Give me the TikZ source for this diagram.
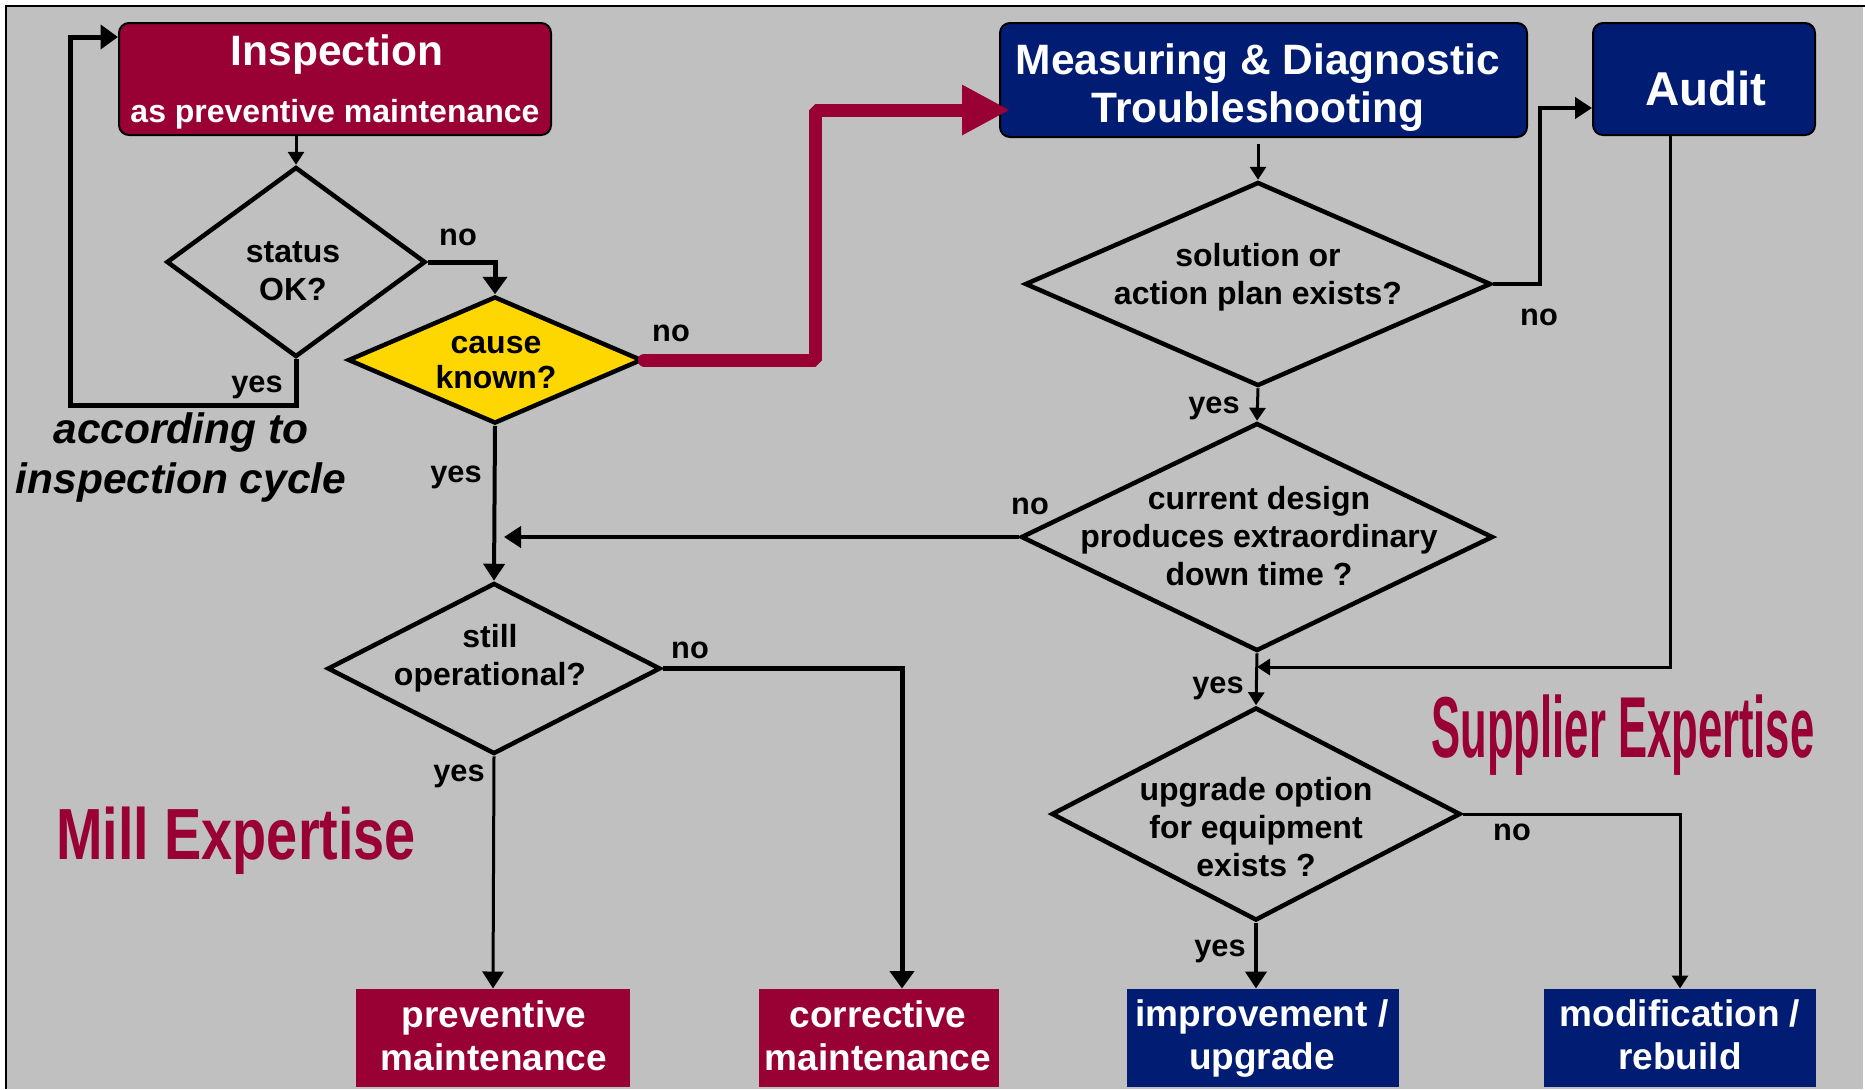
\documentclass[tikz,border=0pt]{standalone}
\usepackage{fontspec}
\setmainfont{Liberation Sans}
\usepackage{graphicx}
\usetikzlibrary{shapes.geometric,arrows.meta,calc}
\definecolor{dred}{HTML}{990033}
\definecolor{navy}{HTML}{001C73}
\definecolor{ygold}{HTML}{FFD700}
\definecolor{bg}{HTML}{C0C0C0}
\def\px{0.4pt}
\newcommand\fBig{\fontsize{17pt}{19.2pt}\selectfont\bfseries}
\newcommand\fSub{\fontsize{12.8pt}{15pt}\selectfont\bfseries}
\newcommand\fAudit{\fontsize{19pt}{22pt}\selectfont\bfseries}
\newcommand\fBot{\fontsize{14.8pt}{17.2pt}\selectfont\bfseries}
\newcommand\fDia{\fontsize{12.8pt}{15.2pt}\selectfont\bfseries}
\newcommand\fDiaB{\fontsize{12.8pt}{14pt}\selectfont\bfseries}
\newcommand\fLab{\fontsize{12.3pt}{14pt}\selectfont\bfseries}
\newcommand\fCyc{\fontsize{17pt}{20pt}\selectfont\bfseries\itshape}
\newcommand\fMill{\fontsize{29pt}{32pt}\selectfont\bfseries}
\newcommand\fSup{\fontsize{34.6pt}{38pt}\selectfont\bfseries}
\begin{document}
\begin{tikzpicture}[x=0.4pt,y=-0.4pt,
  rbox/.style={draw=black,line width=0.8pt,rounded corners=4pt,inner sep=0pt,fill=#1},
  sbox/.style={draw=none,inner sep=0pt,fill=#1},
  dia/.style={diamond,draw=black,line width=1.8pt,inner sep=0pt,fill=#1},
  wtext/.style={text=white,inner sep=0pt,align=center},
  ktext/.style={text=black,inner sep=0pt,align=center},
  lab/.style={text=black,inner sep=0pt,font=\fLab},
  conn/.style={draw=black,line width=#1},
  arrS/.style={-{Triangle[length=5.2pt,width=6.4pt]}},
  arrM/.style={-{Triangle[length=6.8pt,width=8.4pt]}},
  arrL/.style={-{Triangle[length=7pt,width=9.6pt]}}]
\useasboundingbox (0,0) rectangle (1865,1089);
\fill[white] (0,0) rectangle (1865,1089);
\fill[bg] (6,6) rectangle (1863,1089);
\draw[line width=0.8pt] (6,1089) -- (6,6) -- (1865,6);

% boxes
\node[rbox=dred,minimum width=432*\px,minimum height=112*\px] (insp) at (335,79) {};
\node[rbox=navy,minimum width=527*\px,minimum height=114*\px] (meas) at (1263.5,80) {};
\node[rbox=navy,minimum width=222*\px,minimum height=112*\px] (audit) at (1704,79) {};
\node[sbox=dred,minimum width=274*\px,minimum height=98*\px] (prev) at (493,1038) {};
\node[sbox=dred,minimum width=240*\px,minimum height=98*\px] (corr) at (879,1038) {};
\node[sbox=navy,minimum width=272*\px,minimum height=98*\px] (impr) at (1263,1038) {};
\node[sbox=navy,minimum width=272*\px,minimum height=98*\px] (modif) at (1680,1038) {};

\node[wtext,font=\fBig,anchor=base] (inspT1) at (337,65) {Inspection};
\node[wtext,font=\fSub,anchor=base] (inspT2) at (335,122) {as preventive maintenance};
\node[wtext,font=\fBig] (measT) at (1258,88) {Measuring \& Diagnostic\\Troubleshooting};
\node[wtext,font=\fAudit,anchor=base] (auditT) at (1706,105) {Audit};
\node[wtext,font=\fBot] (prevT) at (494,1036) {preventive\\maintenance};
\node[wtext,font=\fBot] (corrT) at (878,1036) {corrective\\maintenance};
\node[wtext,font=\fBot] (imprT) at (1262,1038) {improvement /\\upgrade};
\node[wtext,font=\fBot] (modifT) at (1680,1035) {modification /\\rebuild};

% diamonds
\node[dia=bg,minimum width=259*\px,minimum height=190*\px] (status) at (296,262) {};
\node[dia=ygold,minimum width=294*\px,minimum height=127*\px] (cause) at (495,360) {};
\node[dia=bg,minimum width=466*\px,minimum height=204*\px] (sol) at (1258,284) {};
\node[dia=bg,minimum width=472*\px,minimum height=228*\px] (cur) at (1257,537) {};
\node[dia=bg,minimum width=333*\px,minimum height=171*\px] (still) at (494,668.5) {};
\node[dia=bg,minimum width=409*\px,minimum height=213*\px] (upg) at (1256,814) {};

\node[ktext,font=\fDia] (statusT) at (293,271) {status\\OK?};
\node[ktext,font=\fDiaB] (causeT) at (496,363) {cause\\known?};
\node[ktext,font=\fDia] (solT) at (1258,277) {solution or\\action plan exists?};
\node[ktext,font=\fDia] (curT) at (1259,536) {current design\\produces extraordinary\\down time ?};
\node[ktext,font=\fDia] (stillT) at (490,658) {still\\operational?};
\node[ktext,font=\fDia] (upgT) at (1256,827) {upgrade option\\for equipment\\exists ?};

% free texts
\node[ktext,font=\fCyc] (cycle) at (181,457) {according to\\inspection cycle};
\node[anchor=base,inner sep=0pt,text=dred,font=\fMill] (mill) at (236,859) {\scalebox{0.77}[1]{Mill Expertise}};
\node[anchor=base,inner sep=0pt,text=dred,font=\fSup] (supp) at (1623,757) {\scalebox{0.504}[1]{Supplier Expertise}};

% labels
\node[lab] (l1) at (458,237) {no};
\node[lab] (l2) at (257,387) {yes};
\node[lab] (l3) at (671,333) {no};
\node[lab] (l4) at (456,477) {yes};
\node[lab] (l5) at (1539,317) {no};
\node[lab] (l6) at (1214,408) {yes};
\node[lab] (l7) at (1030,506) {no};
\node[lab] (l8) at (1218,688) {yes};
\node[lab] (l9) at (690,650) {no};
\node[lab] (l10) at (459,776) {yes};
\node[lab] (l11) at (1512,832) {no};
\node[lab] (l12) at (1220,951) {yes};

% coordinates
\coordinate (loopA) at (70,405);
\coordinate (loopB) at (70,37);
\coordinate (redA) at (815,110);
\coordinate (solA) at (1540,108);
\coordinate (audA) at (1670,667);
\coordinate (stillA) at (902,672);

% connectors
\draw[conn=1.2pt,arrS] (status.north |- insp.south) -- (status.north);
\draw[conn=2pt,arrL] (status.east) -| (cause.north);
\draw[conn=2pt,arrL] (status.south) -- (status.south |- loopA) -- (loopA) -- (loopB) -- (loopB -| insp.west);
\draw[dred,line width=5.2pt,line cap=round,line join=bevel,-{Triangle[length=19.2pt,width=18.8pt]},shorten >=-4.4pt] (cause.east) -| (redA) -- (redA -| meas.west);
\draw[conn=1.6pt,arrM] (cause.south) -- (still.north);
\draw[conn=1.2pt,arrS,shorten <=2.4pt] (sol.north |- meas.south) -- (sol.north);
\draw[conn=1.6pt,arrM] (sol.east) -| (solA) -- (solA -| audit.west);
\draw[conn=1.2pt,arrS] (sol.south) -- (cur.north);
\draw[conn=1.6pt,arrM] (cur.west) -- ($(still.north |- cur.west)+(10,0)$);
\draw[conn=1.2pt,arrS] (cur.south) -- (upg.north);
\draw[conn=1.2pt,arrS] (audA |- audit.south) -- (audA) -- (audA -| cur.south);
\draw[conn=2pt,arrL] (still.east) -| (stillA |- corr.north);
\draw[conn=1.2pt,arrM] (still.south) -- (prev.north);
\draw[conn=1.2pt,arrS] (upg.east) -| (modif.north);
\draw[conn=1.6pt,arrM] (upg.south) -- (upg.south |- impr.north);
\end{tikzpicture}
\end{document}
